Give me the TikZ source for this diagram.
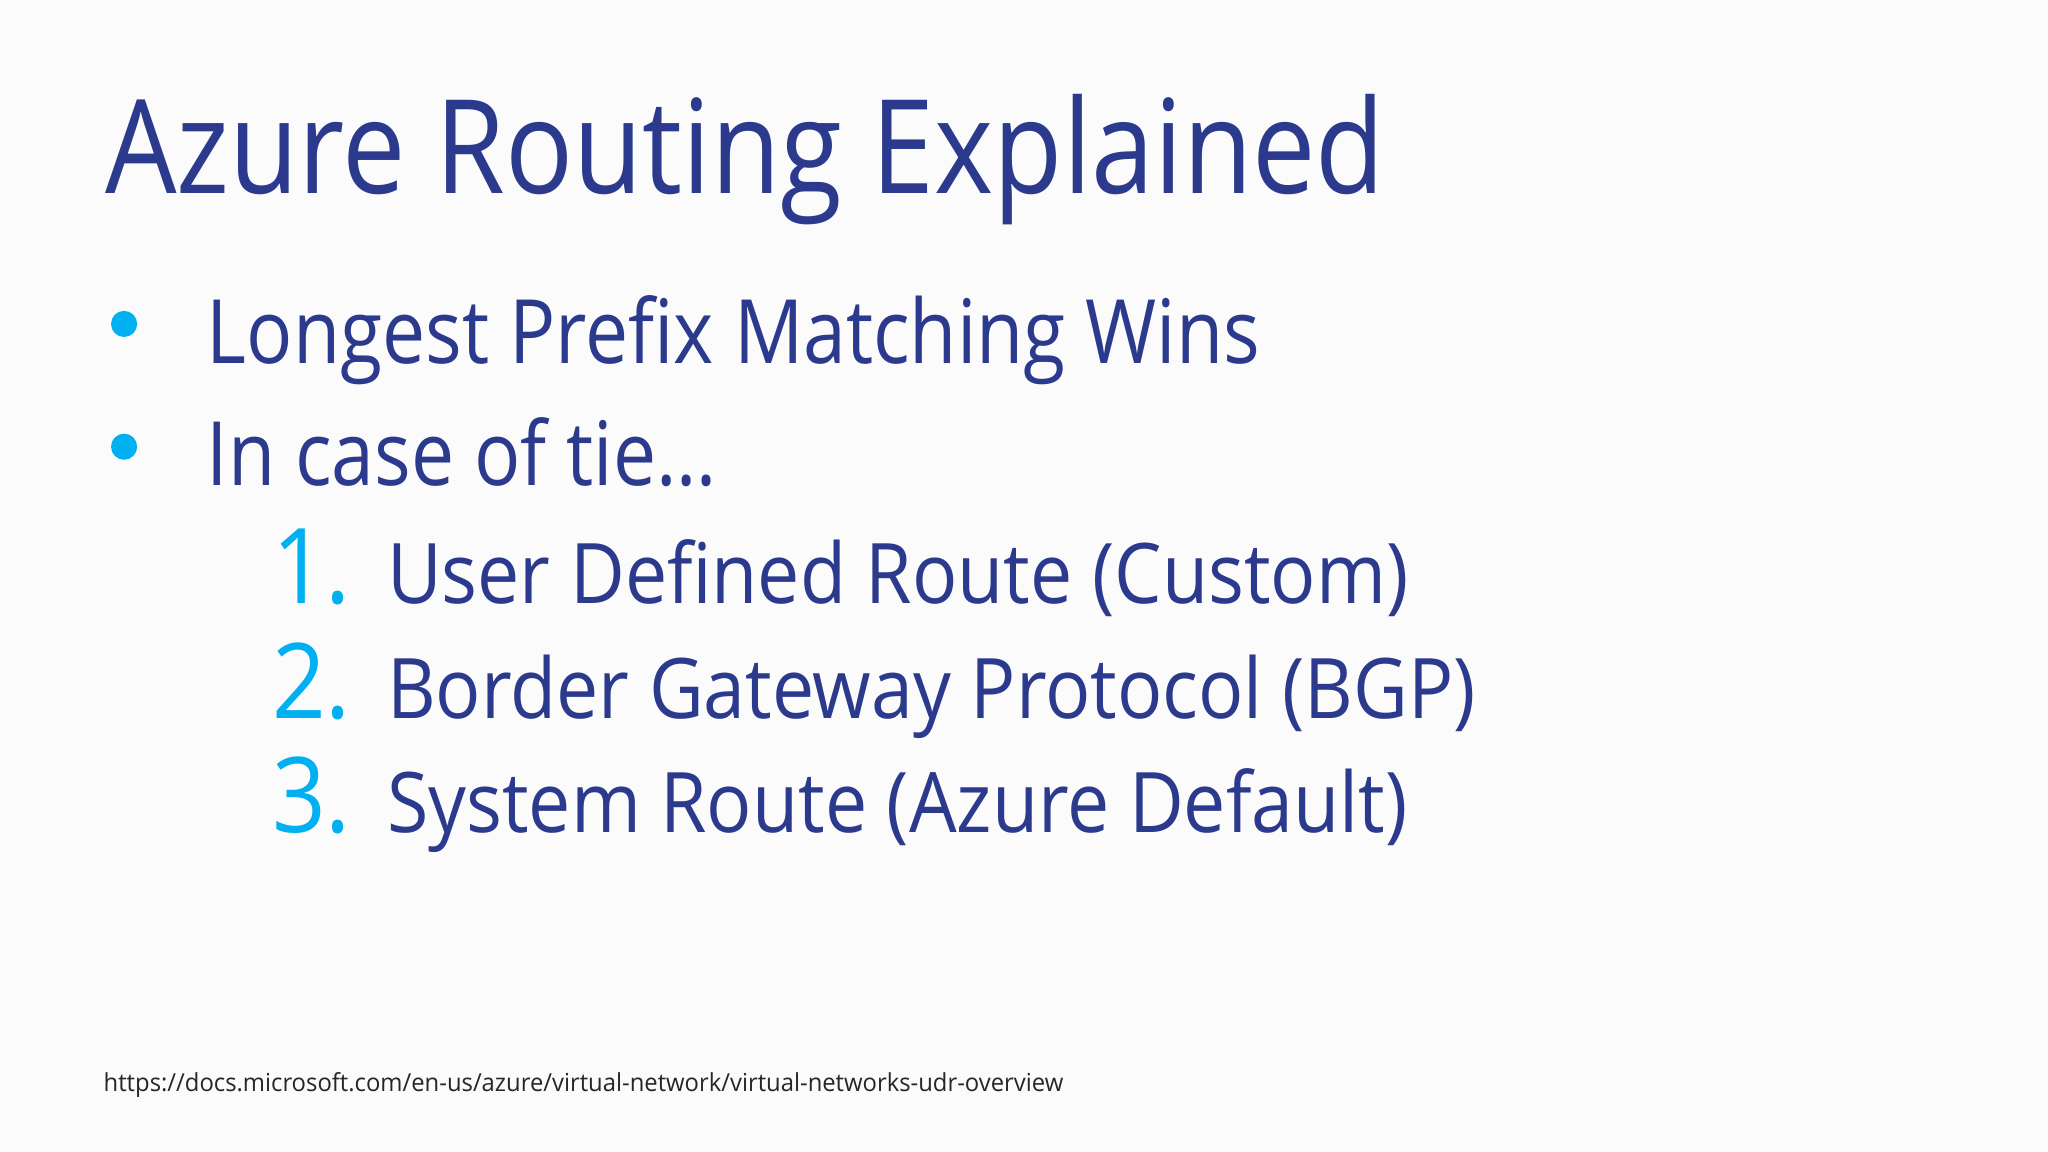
\documentclass[tikz,border=0pt]{standalone}
\usepackage{fontspec}
\setmainfont{Open Sans}
\newfontfamily\fta[FakeStretch=0.865]{Open Sans}
\newfontfamily\ftb[FakeStretch=0.865]{Open Sans}
\newfontfamily\ftc[FakeStretch=0.9]{Open Sans}
\newfontfamily\ftd[FakeStretch=0.96]{Open Sans}
\definecolor{navy}{HTML}{2B3A8C}
\definecolor{cyanb}{HTML}{00B0F0}
\tikzset{x=0.5pt,y=-0.5pt,
 title/.style={anchor=base west,inner sep=0,text=navy,font=\fta\fontsize{50}{50}\selectfont},
 bul/.style={anchor=base west,inner sep=0,text=navy,font=\ftb\fontsize{34}{34}\selectfont},
 num/.style={anchor=base west,inner sep=0,text=cyanb,font=\ftc\fontsize{40}{40}\selectfont},
 item/.style={anchor=base west,inner sep=0,text=navy,font=\ftc\fontsize{32}{32}\selectfont},
 dot/.style={circle,fill=cyanb,inner sep=0,minimum size=10pt}}
\begin{document}
\begin{tikzpicture}
\fill[white!97!gray] (0,0) rectangle (1568,882);
\useasboundingbox (0,0) rectangle (1568,882);
\node[title] (t) at (80,148) {Azure Routing Explained};
\node[dot] (d1) at (95,248) {};
\node[bul] (b1) at (158,278) {Longest Prefix Matching Wins};
\node[dot] (d2) at (95,342) {};
\node[bul] (b2) at (158,372) {In case of tie…};
\node[num] (n1) at (208,462) {1.};
\node[item] (i1) at (296,462) {User Defined Route (Custom)};
\node[num] (n2) at (208,550) {2.};
\node[item] (i2) at (296,550) {Border Gateway Protocol (BGP)};
\node[num] (n3) at (208,637) {3.};
\node[item] (i3) at (296,637) {System Route (Azure Default)};
\node[anchor=base west,inner sep=0,font=\ftd\fontsize{9.5}{10}\selectfont,text=black!85] (u) at (79,836) {https://docs.microsoft.com/en-us/azure/virtual-network/virtual-networks-udr-overview};
\end{tikzpicture}
\end{document}
